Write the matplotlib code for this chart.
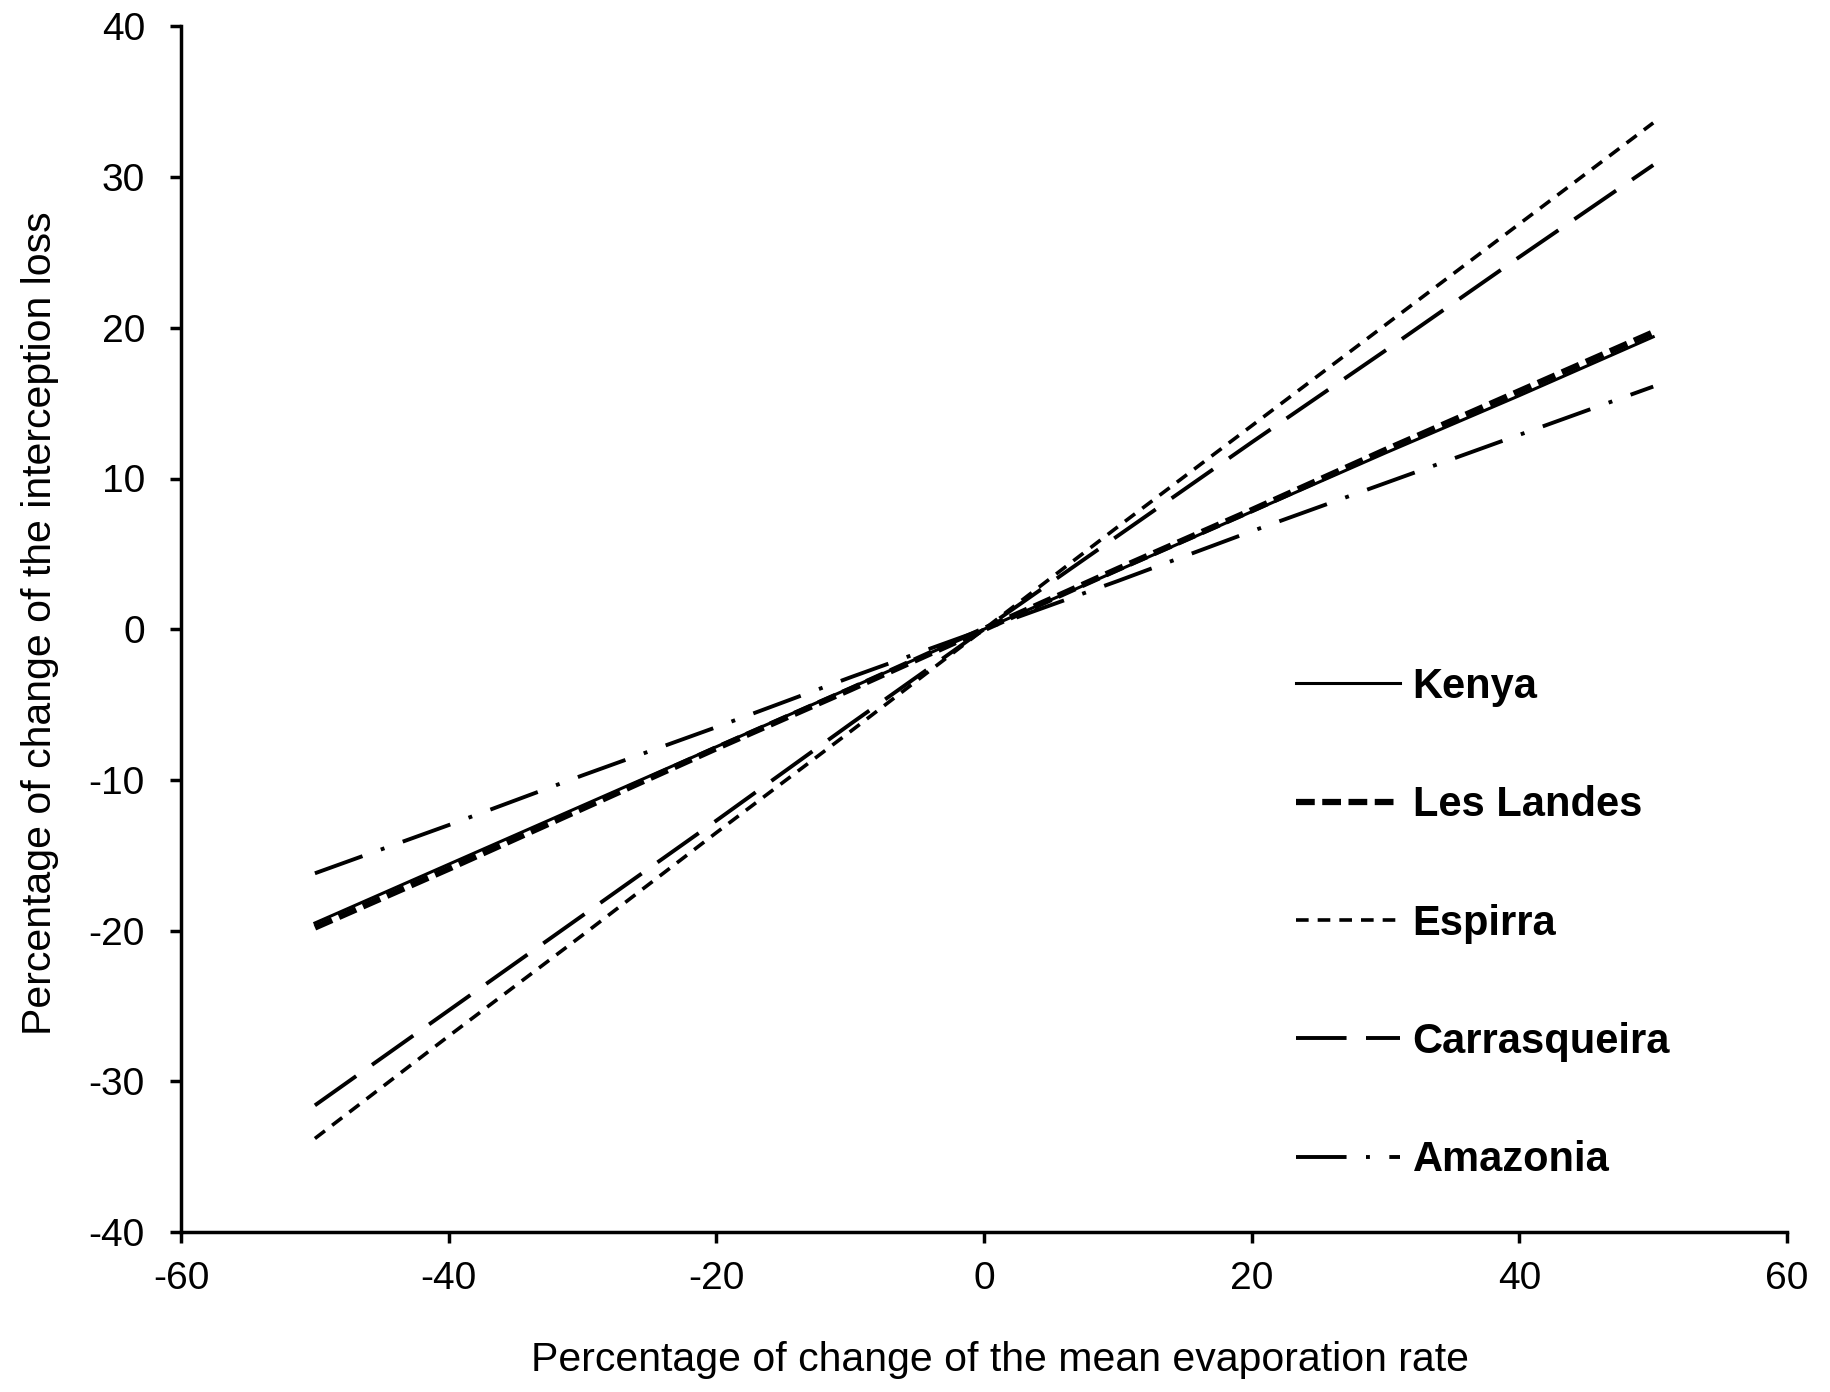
import matplotlib
matplotlib.use("Agg")
import matplotlib.pyplot as plt

plt.rcParams['font.family'] = ['Liberation Sans', 'DejaVu Sans']
plt.rcParams['axes.unicode_minus'] = False

x_vals = [-50, -40, -30, -20, -10, 0, 10, 20, 30, 40, 50]
kenya = [-19.5, -15.6, -11.7, -7.8, -3.9, 0, 3.9, 7.8, 11.7, 15.5, 19.4]
les_landes = [-19.8, -15.9, -11.9, -7.9, -4.0, 0, 4.0, 7.9, 11.9, 15.8, 19.7]
espirra = [-33.8, -27.0, -20.3, -13.5, -6.8, 0, 6.8, 13.5, 20.2, 26.9, 33.6]
carrasqueira = [-31.6, -25.3, -19.0, -12.7, -6.3, 0, 6.2, 12.4, 18.5, 24.7, 30.8]
amazonia = [-16.2, -13.0, -9.7, -6.5, -3.2, 0, 3.2, 6.5, 9.7, 12.9, 16.1]

x_ticks = [-60, -40, -20, 0, 20, 40, 60]
y_ticks = [-40, -30, -20, -10, 0, 10, 20, 30, 40]

fig = plt.figure(figsize=(18.31, 13.92), dpi=100)
ax = fig.add_axes([0.0989, 0.115, 0.8771, 0.866])

ax.plot(x_vals, kenya, color='black', lw=2.2, linestyle='-', label='Kenya')
ax.plot(x_vals, les_landes, color='black', lw=4.5, linestyle=(0, (3, 1.2)), label='Les Landes')
ax.plot(x_vals, espirra, color='black', lw=2.6, linestyle=(0, (3.5, 2.5)), label='Espirra')
ax.plot(x_vals, carrasqueira, color='black', lw=2.8, linestyle=(0, (13, 5)), label='Carrasqueira')
ax.plot(x_vals, amazonia, color='black', lw=2.8, linestyle=(0, (13, 5, 1, 5)), label='Amazonia')

ax.set_xlim(-60, 60)
ax.set_ylim(-40, 40)
ax.set_xticks(x_ticks)
ax.set_yticks(y_ticks)
ax.tick_params(direction='out', length=8, width=2.5, labelsize=28)
ax.tick_params(axis='x', pad=13)
ax.tick_params(axis='y', pad=18)
for s in ['top', 'right']:
    ax.spines[s].set_visible(False)
for s in ['left', 'bottom']:
    ax.spines[s].set_linewidth(2.5)

ax.set_xlabel('Percentage of change of the mean evaporation rate', fontsize=29.5)
ax.set_ylabel('Percentage of change of the interception loss', fontsize=29.5)
ax.xaxis.set_label_coords(0.51, -0.0904)
ax.yaxis.set_label_coords(-0.076, 0.505)

leg = ax.legend(loc='upper left', bbox_to_anchor=(0.7078, 0.5208),
                bbox_transform=fig.transFigure, frameon=False,
                prop={'weight': 'bold', 'size': 30}, handlelength=2.5,
                handletextpad=0.3, labelspacing=1.88, borderpad=0,
                borderaxespad=0)

fig.savefig('out.png', dpi=100, facecolor='white')
